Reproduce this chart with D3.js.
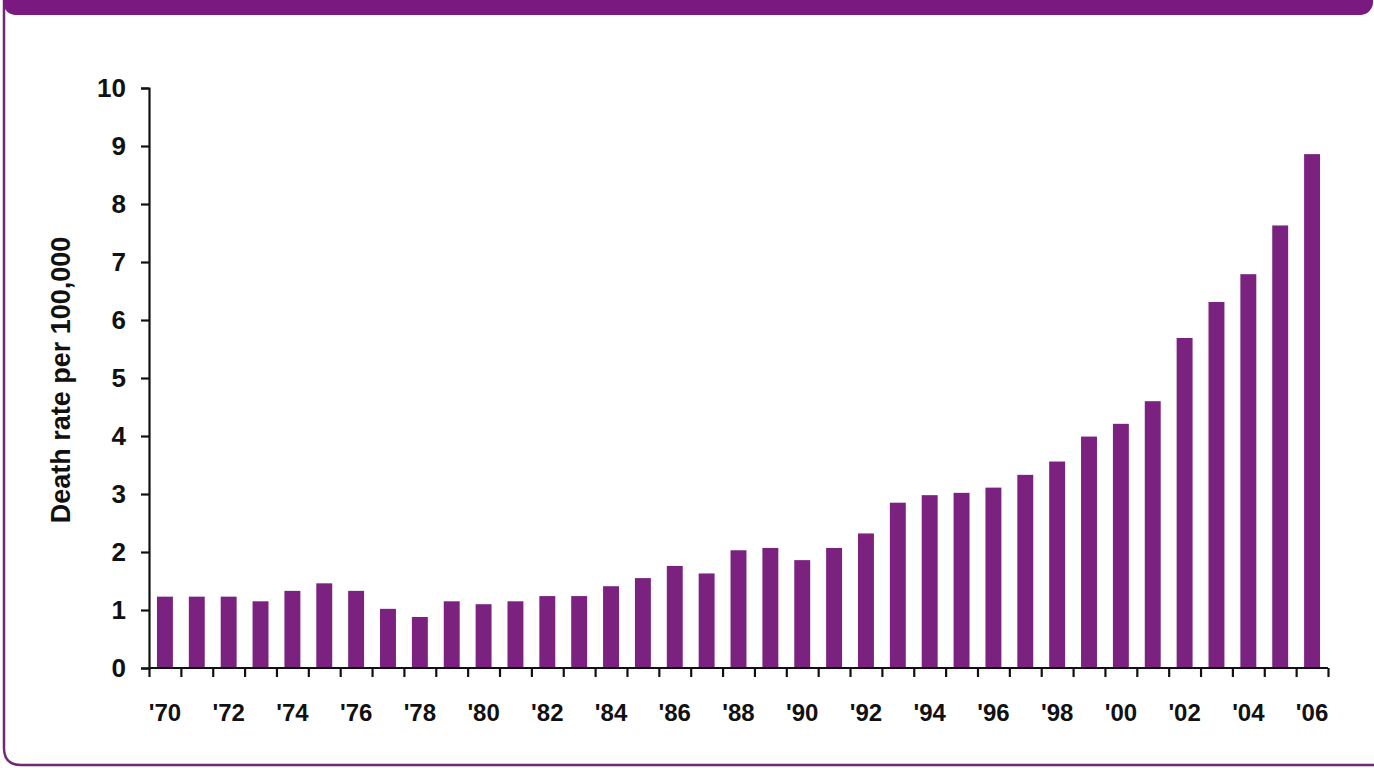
<!DOCTYPE html>
<html>
<head>
<meta charset="utf-8">
<script src="https://cdn.jsdelivr.net/npm/d3@7"></script>
<style>
  html, body { margin: 0; padding: 0; background: #ffffff; }
  svg { display: block; }
  text { font-family: "Liberation Sans", Arial, Helvetica, sans-serif; font-weight: bold; fill: #111; }
</style>
</head>
<body>
<svg id="chart" width="1374" height="768"></svg>
<script>
// Death rate per 100,000 population, 1970–2006
const years = d3.range(1970, 2007);
const rates = [
  1.23, 1.23, 1.23, 1.15, 1.33, 1.46, 1.33, 1.02, 0.88, 1.15,
  1.10, 1.15, 1.24, 1.24, 1.41, 1.55, 1.76, 1.63, 2.03, 2.07,
  1.86, 2.07, 2.32, 2.85, 2.98, 3.02, 3.11, 3.33, 3.56, 3.99,
  4.21, 4.60, 5.69, 6.31, 6.79, 7.63, 8.86
];
const yTicks = d3.range(0, 11);
const xLabelYears = years.filter(y => (y - 1970) % 2 === 0);
const yTitle = "Death rate per 100,000";

const purple = "#7b2281";
const frameColor = "#7a1a80";

const svg = d3.select("#chart");

// Panel frame: header band and rounded border
svg.append("path")
  .attr("d", "M4,-20 L4,748 Q4,765 21,765 L1400,765")
  .attr("fill", "none")
  .attr("stroke", "#6e2a72")
  .attr("stroke-width", 2.5);
svg.append("rect")
  .attr("x", 3).attr("y", -30)
  .attr("width", 1370).attr("height", 45)
  .attr("rx", 13).attr("ry", 13)
  .attr("fill", frameColor);

const data = years.map((y, i) => ({ year: y, rate: rates[i] }));

const plotLeft = 149, plotRight = 1328, plotTop = 88, plotBottom = 668;

const x = d3.scaleBand()
  .domain(years)
  .range([plotLeft, plotRight])
  .paddingInner(0.5)
  .paddingOuter(0.25);

const xEdges = d3.scaleLinear()
  .domain([0, years.length])
  .range([plotLeft, plotRight]);

const y = d3.scaleLinear()
  .domain([0, 10])
  .range([plotBottom, plotTop]);

// Bars
svg.append("g")
  .selectAll("rect")
  .data(data)
  .join("rect")
  .attr("x", d => x(d.year))
  .attr("y", d => y(d.rate))
  .attr("width", x.bandwidth())
  .attr("height", d => y(0) - y(d.rate))
  .attr("fill", purple);

// Y axis
const yAxis = svg.append("g")
  .attr("transform", `translate(${plotLeft},0)`)
  .call(d3.axisLeft(y).tickValues(yTicks).tickSize(8).tickPadding(15).tickFormat(d3.format("d")));
yAxis.select(".domain").attr("stroke", "#111").attr("stroke-width", 2.2);
yAxis.selectAll(".tick line").attr("stroke", "#111").attr("stroke-width", 2.2);
yAxis.selectAll(".tick text")
  .style("font-size", "26px")
  .style("font-weight", "bold")
  .attr("fill", "#111");

// X axis: ticks at category boundaries
const xTickAxis = svg.append("g")
  .attr("transform", `translate(0,${plotBottom})`)
  .call(d3.axisBottom(xEdges).tickValues(d3.range(years.length + 1)).tickSize(9).tickFormat(""));
xTickAxis.select(".domain").attr("stroke", "#111").attr("stroke-width", 2.2).attr("d", `M${plotLeft},0H${plotRight}`);
xTickAxis.selectAll(".tick line").attr("stroke", "#111").attr("stroke-width", 2.2);

// X labels under every other year
const xLabelAxis = svg.append("g")
  .attr("transform", `translate(0,${plotBottom})`)
  .call(d3.axisBottom(x)
    .tickValues(xLabelYears)
    .tickSize(0)
    .tickPadding(36)
    .tickFormat(d => "'" + String(d).slice(2)));
xLabelAxis.select(".domain").remove();
xLabelAxis.selectAll(".tick text")
  .style("font-size", "24px")
  .style("font-weight", "bold")
  .attr("fill", "#111");

// Y axis title
svg.append("text")
  .attr("transform", `translate(70,${(plotTop + plotBottom) / 2 + 2}) rotate(-90)`)
  .attr("text-anchor", "middle")
  .style("font-size", "27px")
  .text(yTitle);
</script>
</body>
</html>
